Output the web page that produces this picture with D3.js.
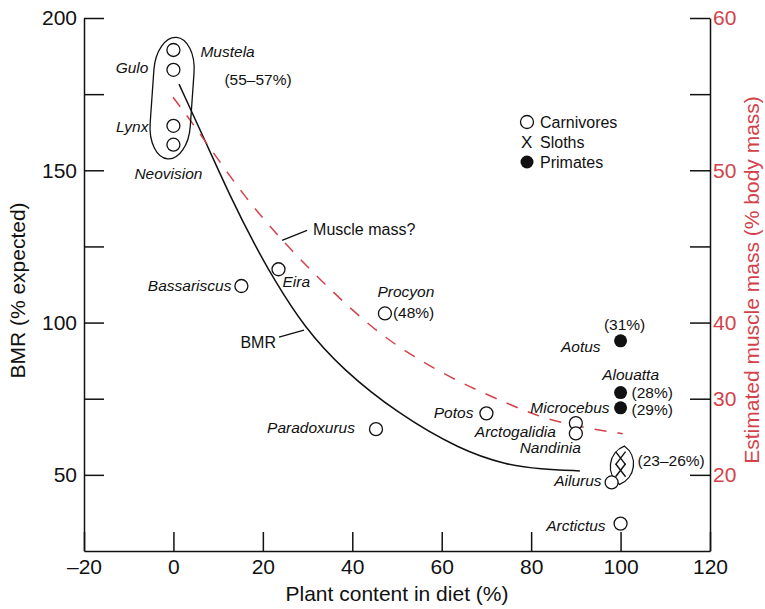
<!DOCTYPE html>
<html>
<head>
<meta charset="utf-8">
<script src="https://cdn.jsdelivr.net/npm/d3@7"></script>
<style>
  body { margin: 0; background: #fff; }
  svg { display: block; font-family: Arial, "Liberation Sans", Helvetica, sans-serif; }
</style>
</head>
<body>
<div id="chart"></div>
<script>
// ---- data ----
// x = plant content in diet (%), y = BMR (% expected)
const carnivoreNames = ["Mustela", "Gulo", "Lynx", "Neovision", "Bassariscus", "Eira", "Procyon",
  "Paradoxurus", "Potos", "Arctogalidia", "Nandinia", "Ailurus", "Arctictus"];
const carnivorePlant = [0, 0, 0, 0, 15.2, 23.5, 47.3, 45.3, 70, 90, 90, 98, 100];
const carnivoreBmr = [189.5, 183, 164.6, 158.4, 112, 117.5, 103, 65, 70.2, 67, 63.6, 47.5, 34];

const primateNames = ["Aotus", "Alouatta", "Microcebus"];
const primatePlant = [100, 100, 100];
const primateBmr = [94, 77, 72];
const primateMuscle = ["(31%)", "(28%)", "(29%)"];

const slothPlant = [100, 100];
const slothBmr = [55.5, 51.5];

// fitted curves
const bmrCurvePlant = [1.25, 7.2, 13.1, 18, 22.3, 29.2, 37.9, 50, 64.1, 74.6, 82, 90.9];
const bmrCurveValue = [178.3, 159.3, 140.2, 126, 114.6, 98.5, 84.5, 70.3, 58.2, 53.2, 51.9, 51.3];
// muscle mass curve, in % body mass (right axis)
const musclePlant = [-0.1, 3, 7.4, 16, 24.3, 32.1, 44, 53.6, 64.1, 74.6, 83.5, 94.7, 100.5];
const muscleValue = [54.8, 53.6, 51.8, 48.2, 45.4, 43.0, 39.4, 35.5, 32.1, 29.4, 27.2, 25.9, 25.4];

// axes
const xTicks = [-20, 0, 20, 40, 60, 80, 100, 120];
const bmrTicks = [50, 75, 100, 125, 150, 175, 200];
const bmrLabels = [50, 100, 150, 200];
const muscleTicks = [20, 30, 40, 45, 50, 55, 60];
const muscleLabels = [20, 30, 40, 50, 60];

const groupRanges = ["(55–57%)", "(48%)", "(23–26%)"];

// ---- layout ----
const width = 765, height = 609;
const red = "#d3424b";

const svg = d3.select("#chart").append("svg")
    .attr("width", width)
    .attr("height", height);

const x = d3.scaleLinear().domain([-20, 120]).range([84, 710]);
const y = d3.scaleLinear().domain([25, 200]).range([551, 18]);
// right axis is piecewise: 10-40 over BMR 25-100, 40-60 over BMR 100-200
const yR = d3.scaleLinear().domain([10, 40, 60]).range([y(25), y(100), y(200)]);

const fmtMinus = d => d < 0 ? "–" + Math.abs(d) : String(d);

function styleAxis(g) {
    g.attr("font-size", 21).attr("font-family", null);
    g.selectAll("path, line").attr("stroke", "#111").attr("stroke-width", 1.5);
}

// bottom axis
svg.append("g")
    .attr("transform", `translate(0,${y(25)})`)
    .call(d3.axisBottom(x).tickValues(xTicks).tickSize(-19).tickSizeOuter(0)
        .tickPadding(8).tickFormat(fmtMinus))
    .call(styleAxis)
    .call(g => g.selectAll(".tick text").attr("fill", "#111"));

// left axis
svg.append("g")
    .attr("transform", `translate(${x(-20)},0)`)
    .call(d3.axisLeft(y).tickValues(bmrTicks).tickSize(-20).tickSizeOuter(0)
        .tickPadding(7).tickFormat(d => bmrLabels.includes(d) ? d : ""))
    .call(styleAxis)
    .call(g => g.selectAll(".tick text").attr("fill", "#111"));

// right axis
svg.append("g")
    .attr("transform", `translate(${x(120)},0)`)
    .call(d3.axisRight(yR).tickValues(muscleTicks).tickSize(-20).tickSizeOuter(0)
        .tickPadding(3).tickFormat(d => muscleLabels.includes(d) ? d : ""))
    .call(styleAxis)
    .call(g => g.selectAll(".tick text").attr("fill", red));

// axis titles
svg.append("text")
    .attr("x", (x(-20) + x(120)) / 2)
    .attr("y", 601)
    .attr("text-anchor", "middle")
    .attr("font-size", 21)
    .attr("fill", "#111")
    .text("Plant content in diet (%)");

svg.append("text")
    .attr("transform", `translate(25,${(y(25) + y(200)) / 2 + 6}) rotate(-90)`)
    .attr("text-anchor", "middle")
    .attr("font-size", 21)
    .attr("fill", "#111")
    .text("BMR (% expected)");

svg.append("text")
    .attr("transform", `translate(759,280) rotate(-90)`)
    .attr("text-anchor", "middle")
    .attr("font-size", 21)
    .attr("fill", red)
    .text("Estimated muscle mass (% body mass)");

// ---- curves ----
const bmrLine = d3.line().x(d => x(d[0])).y(d => y(d[1])).curve(d3.curveBasis);
svg.append("path")
    .datum(d3.zip(bmrCurvePlant, bmrCurveValue))
    .attr("d", bmrLine)
    .attr("fill", "none")
    .attr("stroke", "#111")
    .attr("stroke-width", 1.5);

const muscleLine = d3.line().x(d => x(d[0])).y(d => yR(d[1])).curve(d3.curveBasis);
svg.append("path")
    .datum(d3.zip(musclePlant, muscleValue))
    .attr("d", muscleLine)
    .attr("fill", "none")
    .attr("stroke", red)
    .attr("stroke-width", 1.5)
    .attr("stroke-dasharray", "12,11");

// curve call-outs
function callout(px, py, dx, dy, label, tx, ty, anchor) {
    svg.append("line")
        .attr("x1", px).attr("y1", py)
        .attr("x2", px + dx).attr("y2", py + dy)
        .attr("stroke", "#111").attr("stroke-width", 1.3);
    svg.append("text")
        .attr("x", px + tx).attr("y", py + ty)
        .attr("text-anchor", anchor)
        .attr("font-size", 16)
        .attr("fill", "#111")
        .text(label);
}
callout(x(29.2), y(97.5), -25, 7, "BMR", -28, 18, "end");
callout(x(24.3), yR(45.4), 25, -10, "Muscle mass?", 31, -5, "start");

// ---- grouping outlines ----
// carnivores at 0 % plant content: rounded capsule
const capX = x(-0.3), capY = y(173.7);
const capW = x(4.5) - x(-4.5), capH = y(154) - y(194);
svg.append("rect")
    .attr("x", capX - capW / 2).attr("y", capY - capH / 2)
    .attr("width", capW).attr("height", capH)
    .attr("rx", capW / 2).attr("ry", 34)
    .attr("transform", `rotate(4,${capX},${capY})`)
    .attr("fill", "none").attr("stroke", "#111").attr("stroke-width", 1.3);

// lens around the sloths
const lx = x(100.3), lyTop = y(59.5), lyBot = y(46.8);
const lensR = 22;
svg.append("path")
    .attr("d", `M${lx},${lyTop} A${lensR},${lensR} 0 0 1 ${lx},${lyBot} A${lensR},${lensR} 0 0 1 ${lx},${lyTop}Z`)
    .attr("transform", `rotate(7,${lx},${(lyTop + lyBot) / 2})`)
    .attr("fill", "none").attr("stroke", "#111").attr("stroke-width", 1.3);

// ---- points ----
const r = 6.5;
const carnivores = carnivoreNames.map((n, i) => ({ name: n, px: x(carnivorePlant[i]), py: y(carnivoreBmr[i]) }));
const primates = primateNames.map((n, i) => ({ name: n, px: x(primatePlant[i]), py: y(primateBmr[i]), pct: primateMuscle[i] }));
const sloths = slothPlant.map((p, i) => ({ px: x(p), py: y(slothBmr[i]) }));

svg.append("g").selectAll("circle")
    .data(carnivores)
    .join("circle")
    .attr("cx", d => d.px).attr("cy", d => d.py).attr("r", r)
    .attr("fill", "#fff").attr("stroke", "#111").attr("stroke-width", 1.3);

svg.append("g").selectAll("circle")
    .data(primates)
    .join("circle")
    .attr("cx", d => d.px).attr("cy", d => d.py).attr("r", r)
    .attr("fill", "#111");

const xMark = (cx, cy) => `M${cx - 5},${cy - 6.5}L${cx + 5},${cy + 6.5}M${cx + 5},${cy - 6.5}L${cx - 5},${cy + 6.5}`;
svg.append("g").selectAll("path")
    .data(sloths)
    .join("path")
    .attr("d", d => xMark(d.px, d.py))
    .attr("stroke", "#111").attr("stroke-width", 1.4).attr("fill", "none");

// ---- labels (offsets from their point, in px) ----
const labelPlacement = {
    Mustela: [27, 7, "start"],
    Gulo: [-25, 3, "end"],
    Lynx: [-25, 6, "end"],
    Neovision: [-5, 34, "middle"],
    Bassariscus: [-10, 5, "end"],
    Eira: [4, 18, "start"],
    Procyon: [21, -16, "middle"],
    Paradoxurus: [-21, 4, "end"],
    Potos: [-13, 5, "end"],
    Arctogalidia: [-20, 14, "end"],
    Nandinia: [5, 20, "end"],
    Ailurus: [-10, 4, "end"],
    Arctictus: [-15, 7, "end"],
    Aotus: [-20, 11, "end"],
    Alouatta: [10, -12.5, "middle"],
    Microcebus: [-11, 5, "end"]
};
const pctPlacement = [[4, -11, "middle"], [11, 5, "start"], [11, 7, "start"]];

const labels = svg.append("g").attr("fill", "#111");
function addLabel(tx, ty, anchor, text, italic) {
    labels.append("text")
        .attr("x", tx).attr("y", ty)
        .attr("text-anchor", anchor)
        .attr("font-size", 15.5)
        .attr("font-style", italic ? "italic" : "normal")
        .text(text);
}
carnivores.concat(primates).forEach(d => {
    const [dx, dy, a] = labelPlacement[d.name];
    addLabel(d.px + dx, d.py + dy, a, d.name, true);
});
primates.forEach((d, i) => {
    const [dx, dy, a] = pctPlacement[i];
    addLabel(d.px + dx, d.py + dy, a, d.pct, false);
});
addLabel(carnivores[0].px + 51, carnivores[0].py + 35, "start", groupRanges[0], false);
addLabel(carnivores[6].px + 8, carnivores[6].py + 5, "start", groupRanges[1], false);
addLabel(sloths[0].px + 17, (sloths[0].py + sloths[1].py) / 2 + 2, "start", groupRanges[2], false);

// ---- legend ----
const legend = svg.append("g").attr("transform", "translate(527,122)");
legend.append("circle").attr("cx", 0).attr("cy", 0).attr("r", r)
    .attr("fill", "#fff").attr("stroke", "#111").attr("stroke-width", 1.3);
legend.append("text").attr("x", -6).attr("y", 26).attr("font-size", 17).attr("fill", "#111").text("X");
legend.append("circle").attr("cx", 0).attr("cy", 40).attr("r", r).attr("fill", "#111");
["Carnivores", "Sloths", "Primates"].forEach((t, i) => {
    legend.append("text")
        .attr("x", 13).attr("y", 6 + i * 20)
        .attr("font-size", 16)
        .attr("fill", "#111")
        .text(t);
});
</script>
</body>
</html>
